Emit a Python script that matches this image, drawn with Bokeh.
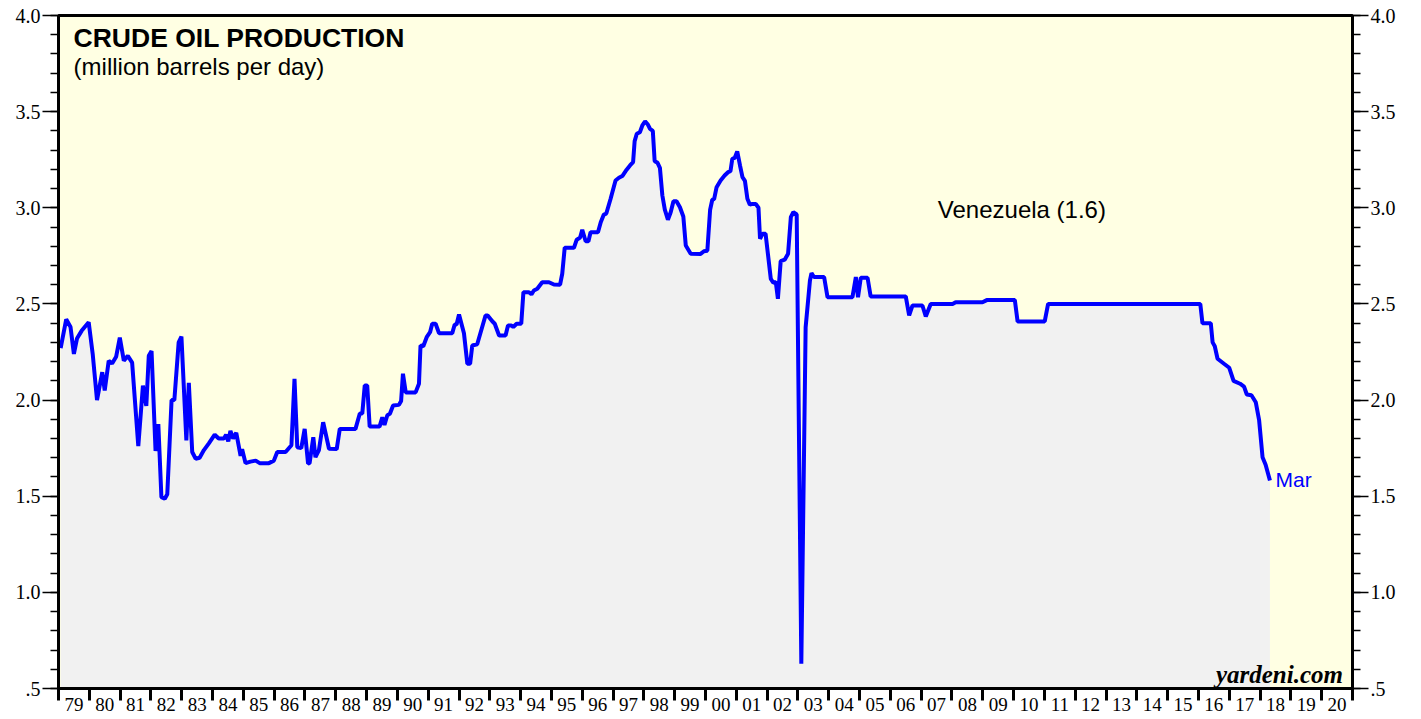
from bokeh.plotting import figure
from bokeh.models import Range1d, FixedTicker, LinearAxis, Label
from bokeh.embed import file_html
from bokeh.resources import INLINE

# ---- data (decimal year, million barrels per day) ----
dates = [
    1979.07, 1979.25, 1979.39, 1979.50, 1979.60, 1979.75, 1979.98, 1980.11, 1980.25, 1980.42,
    1980.50, 1980.63, 1980.74, 1980.87, 1980.99, 1981.12, 1981.25, 1981.39, 1981.59, 1981.74,
    1981.85, 1981.93, 1982.02, 1982.15, 1982.24, 1982.34, 1982.45, 1982.53, 1982.67, 1982.76,
    1982.90, 1982.99, 1983.15, 1983.23, 1983.34, 1983.45, 1983.58, 1983.72, 1983.88, 1984.07,
    1984.20, 1984.37, 1984.44, 1984.51, 1984.58, 1984.67, 1984.77, 1984.91, 1984.96, 1985.07,
    1985.23, 1985.40, 1985.53, 1985.83, 1985.99, 1986.10, 1986.37, 1986.56, 1986.66, 1986.75,
    1986.88, 1986.99, 1987.10, 1987.15, 1987.27, 1987.34, 1987.45, 1987.59, 1987.78, 1988.03,
    1988.13, 1988.64, 1988.78, 1988.86, 1988.94, 1989.02, 1989.10, 1989.42, 1989.51, 1989.58,
    1989.67, 1989.76, 1989.86, 1990.05, 1990.12, 1990.18, 1990.27, 1990.59, 1990.70, 1990.75,
    1990.84, 1990.95, 1991.06, 1991.13, 1991.24, 1991.35, 1991.78, 1991.86, 1991.92, 1992.00,
    1992.16, 1992.27, 1992.36, 1992.43, 1992.59, 1992.86, 1992.93, 1993.08, 1993.16, 1993.30,
    1993.51, 1993.59, 1993.70, 1993.76, 1993.87, 1994.02, 1994.09, 1994.27, 1994.35, 1994.43,
    1994.54, 1994.70, 1994.92, 1995.08, 1995.28, 1995.35, 1995.43, 1995.73, 1995.82, 1995.93,
    1996.00, 1996.11, 1996.20, 1996.27, 1996.51, 1996.60, 1996.70, 1996.78, 1996.92, 1997.08,
    1997.19, 1997.30, 1997.44, 1997.55, 1997.65, 1997.70, 1997.77, 1997.87, 1997.95, 1998.04,
    1998.13, 1998.20, 1998.29, 1998.35, 1998.44, 1998.52, 1998.60, 1998.68, 1998.78, 1998.87,
    1998.96, 1999.06, 1999.17, 1999.28, 1999.36, 1999.52, 1999.84, 1999.95, 2000.06, 2000.15,
    2000.22, 2000.28, 2000.36, 2000.49, 2000.62, 2000.73, 2000.81, 2000.87, 2000.95, 2001.03,
    2001.12, 2001.20, 2001.28, 2001.36, 2001.44, 2001.52, 2001.63, 2001.72, 2001.77, 2001.85,
    2001.95, 2002.12, 2002.20, 2002.28, 2002.35, 2002.44, 2002.57, 2002.68, 2002.77, 2002.85,
    2002.96, 2003.11, 2003.25, 2003.39, 2003.44, 2003.52, 2003.85, 2003.96, 2004.77, 2004.88,
    2004.95, 2005.04, 2005.26, 2005.36, 2006.50, 2006.61, 2006.72, 2007.04, 2007.15, 2007.31,
    2008.02, 2008.12, 2008.99, 2009.13, 2010.04, 2010.13, 2011.01, 2011.12, 2016.06, 2016.13,
    2016.40, 2016.46, 2016.53, 2016.62, 2016.83, 2017.00, 2017.14, 2017.35, 2017.48, 2017.57,
    2017.72, 2017.86, 2017.97, 2018.08, 2018.18, 2018.32,
]
production = [
    2.27, 2.42, 2.38, 2.24, 2.32, 2.36, 2.405, 2.24, 2.00, 2.145,
    2.05, 2.205, 2.19, 2.225, 2.325, 2.205, 2.23, 2.195, 1.76, 2.075,
    1.97, 2.23, 2.255, 1.735, 1.875, 1.495, 1.487, 1.51, 2.00, 2.00,
    2.30, 2.33, 1.79, 2.09, 1.73, 1.695, 1.70, 1.74, 1.775, 1.82,
    1.80, 1.80, 1.82, 1.785, 1.84, 1.80, 1.83, 1.71, 1.745, 1.672,
    1.68, 1.685, 1.672, 1.672, 1.685, 1.73, 1.73, 1.765, 2.11, 1.755,
    1.75, 1.85, 1.67, 1.672, 1.807, 1.703, 1.738, 1.885, 1.747, 1.745,
    1.85, 1.85, 1.93, 1.93, 2.076, 2.076, 1.862, 1.862, 1.91, 1.87,
    1.92, 1.93, 1.972, 1.975, 1.995, 2.137, 2.04, 2.04, 2.085, 2.284,
    2.28, 2.327, 2.353, 2.397, 2.397, 2.348, 2.348, 2.393, 2.393, 2.445,
    2.348, 2.189, 2.189, 2.284, 2.29, 2.44, 2.44, 2.41, 2.397, 2.336,
    2.336, 2.388, 2.388, 2.38, 2.397, 2.397, 2.561, 2.561, 2.55, 2.57,
    2.579, 2.613, 2.613, 2.601, 2.60, 2.657, 2.792, 2.792, 2.834, 2.845,
    2.886, 2.826, 2.826, 2.873, 2.873, 2.925, 2.965, 2.97, 3.047, 3.142,
    3.156, 3.165, 3.198, 3.22, 3.237, 3.347, 3.385, 3.393, 3.428, 3.449,
    3.433, 3.41, 3.40, 3.242, 3.235, 3.208, 3.064, 2.99, 2.938, 2.977,
    3.034, 3.034, 3.003, 2.955, 2.804, 2.761, 2.76, 2.774, 2.777, 2.99,
    3.042, 3.045, 3.107, 3.142, 3.168, 3.185, 3.19, 3.255, 3.26, 3.293,
    3.22, 3.159, 3.14, 3.047, 3.016, 3.02, 3.02, 3.00, 2.839, 2.865,
    2.865, 2.63, 2.61, 2.615, 2.527, 2.722, 2.73, 2.761, 2.951, 2.977,
    2.965, 0.629, 2.379, 2.622, 2.66, 2.64, 2.64, 2.535, 2.535, 2.64,
    2.535, 2.636, 2.636, 2.539, 2.539, 2.44, 2.492, 2.492, 2.435, 2.50,
    2.50, 2.509, 2.509, 2.52, 2.52, 2.409, 2.409, 2.50, 2.50, 2.40,
    2.40, 2.30, 2.28, 2.215, 2.189, 2.168, 2.10, 2.085, 2.07, 2.029,
    2.025, 1.989, 1.894, 1.703, 1.664, 1.582,
]

year_start, year_end = 1979, 2021
y_ticks = [0.5, 1.0, 1.5, 2.0, 2.5, 3.0, 3.5, 4.0]
y_tick_labels = [".5", "1.0", "1.5", "2.0", "2.5", "3.0", "3.5", "4.0"]
x_years = list(range(year_start, year_end))
x_tick_labels = ["%02d" % (y % 100) for y in x_years]

title_text = "CRUDE OIL PRODUCTION"
subtitle_text = "(million barrels per day)"
series_label = "Venezuela (1.6)"
last_label = "Mar"
source_text = "yardeni.com"

# ---- figure ----
p = figure(width=1421, height=719, output_backend="svg", toolbar_location=None,
           x_range=Range1d(year_start, year_end), y_range=Range1d(0.5, 4.0),
           min_border_left=58, min_border_right=69, min_border_top=15, min_border_bottom=31,
           background_fill_color="#ffffe3", border_fill_color="white")
p.xgrid.visible = False
p.ygrid.visible = False
p.outline_line_color = "black"
p.outline_line_width = 3
p.outline_line_alpha = 1.0

p.varea(x=dates, y1=0.5, y2=production, fill_color="#f1f1f1")
p.line(x=dates, y=production, line_color="#0000ff", line_width=4)

minor_y = [round(0.5 + 0.1 * i, 1) for i in range(36)]
yt = FixedTicker(ticks=y_ticks, minor_ticks=minor_y)
ylabels = dict(zip(y_ticks, y_tick_labels))


def style_y(ax):
    ax.ticker = yt
    ax.major_label_overrides = ylabels
    ax.major_tick_out = 16
    ax.major_tick_in = 0
    ax.minor_tick_out = 8
    ax.minor_tick_in = 0
    ax.major_tick_line_width = 1.5
    ax.minor_tick_line_width = 1.5
    ax.axis_line_width = 3
    ax.major_label_text_font = "Liberation Serif"
    ax.major_label_text_font_size = "20px"
    ax.major_label_text_color = "black"
    ax.major_label_standoff = 2


style_y(p.yaxis[0])
right = LinearAxis()
style_y(right)
p.add_layout(right, "right")

xmid = [y + 0.5 for y in x_years]
xa = p.xaxis[0]
xa.ticker = FixedTicker(ticks=xmid, minor_ticks=list(range(year_start, year_end + 1)))
xa.major_label_overrides = dict(zip(xmid, x_tick_labels))
xa.major_tick_out = 0
xa.major_tick_in = 0
xa.minor_tick_out = 12
xa.minor_tick_in = 0
xa.minor_tick_line_width = 3
xa.axis_line_width = 3
xa.major_label_text_font = "Liberation Serif"
xa.major_label_text_font_size = "19px"
xa.major_label_text_color = "black"
xa.major_label_standoff = -3

# ---- texts ----
p.add_layout(Label(x=1979.49, y=3.885, text=title_text, text_font="Liberation Sans",
                   text_font_style="bold", text_font_size="26.5px", text_color="black",
                   text_baseline="alphabetic"))
p.add_layout(Label(x=1979.49, y=3.735, text=subtitle_text, text_font="Liberation Sans",
                   text_font_size="24px", text_color="black", text_baseline="alphabetic"))
p.add_layout(Label(x=2007.54, y=2.99, text=series_label, text_font="Liberation Sans",
                   text_font_size="24px", text_color="black", text_baseline="alphabetic"))
p.add_layout(Label(x=2018.5, y=1.585, text=last_label, text_font="Liberation Sans",
                   text_font_size="21px", text_color="#0000ff", text_baseline="alphabetic"))
p.add_layout(Label(x=2020.69, y=0.575, text=source_text, text_font="Liberation Serif",
                   text_font_style="bold italic", text_font_size="25px", text_align="right",
                   text_color="black", text_baseline="alphabetic"))

open("out.html", "w").write(file_html(p, INLINE))
